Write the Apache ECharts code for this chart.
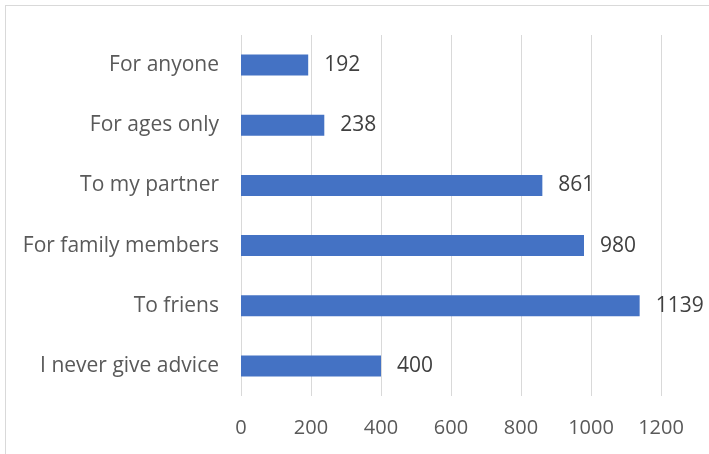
<!DOCTYPE html>
<html>
<head>
<meta charset="utf-8">
<script src="https://cdn.jsdelivr.net/npm/echarts@6/dist/echarts.min.js"></script>
<style>
  html, body { margin: 0; padding: 0; background: #fff; }
  #frame { position: absolute; left: 5px; top: 5px; width: 720px; height: 470px; border: 1px solid #d9d9d9; box-sizing: border-box; }
  #chart { position: absolute; left: 0; top: 0; width: 709px; height: 454px; }
</style>
</head>
<body>
<div id="frame"></div>
<div id="chart"></div>
<script>
// Who people give advice to (bottom-to-top order on the axis)
const categories = ['I never give advice', 'To friens', 'For family members', 'To my partner', 'For ages only', 'For anyone'];
const counts = [400, 1139, 980, 861, 238, 192];
const xTicks = [0, 200, 400, 600, 800, 1000, 1200];

const font = '"Open Sans", sans-serif';
const chart = echarts.init(document.getElementById('chart'), null, { renderer: 'canvas' });
chart.setOption({
  animation: false,
  grid: { left: 241, right: 48, top: 35, bottom: 58, containLabel: false },
  xAxis: {
    type: 'value',
    min: xTicks[0],
    max: xTicks[xTicks.length - 1],
    interval: xTicks[1] - xTicks[0],
    axisLine: { show: false },
    axisTick: { show: false },
    splitLine: { show: true, lineStyle: { color: '#d9d9d9', width: 1 } },
    axisLabel: {
      color: '#595959', fontSize: 20, fontFamily: font, margin: 22,
      formatter: v => String(v)
    }
  },
  yAxis: {
    type: 'category',
    data: categories,
    axisLine: { show: false },
    axisTick: { show: false },
    splitLine: { show: false },
    axisLabel: { color: '#595959', fontSize: 21, fontFamily: font, margin: 22 }
  },
  series: [{
    type: 'bar',
    data: counts,
    barWidth: 21,
    itemStyle: { color: '#4472c4' },
    label: {
      show: true,
      position: 'right',
      distance: 16,
      color: '#404040',
      fontSize: 21,
      fontFamily: font,
      formatter: p => String(p.value)
    }
  }]
});
</script>
</body>
</html>
